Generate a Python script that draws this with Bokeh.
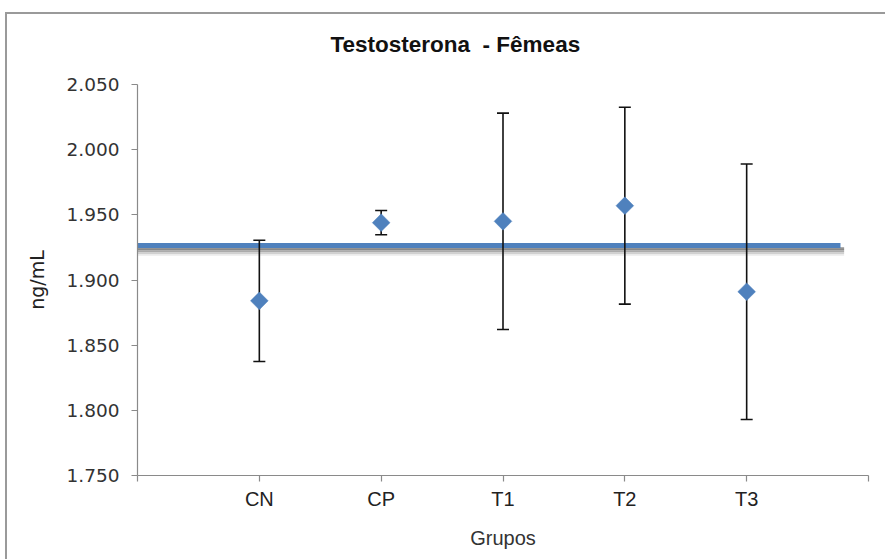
import math

from bokeh.embed import file_html
from bokeh.models import FixedTicker, NumeralTickFormatter, Range1d
from bokeh.plotting import figure
from bokeh.resources import INLINE

# Hormone levels by group (mean and half-width of the error bar)
groups = ["CN", "CP", "T1", "T2", "T3"]
group_pos = [1, 2, 3, 4, 5]
means = [1.884, 1.944, 1.945, 1.957, 1.891]
errors = [0.0465, 0.0093, 0.083, 0.0755, 0.098]

# Horizontal reference line (overall mean)
ref_x = [0.0, 5.77]
ref_y = [1.9265, 1.9265]

y_ticks = [1.750, 1.800, 1.850, 1.900, 1.950, 2.000, 2.050]
x_ticks = [0, 1, 2, 3, 4, 5, 6]

BLUE = "#4F81BD"
AXIS_GREY = "#8a8a8a"
EDGE = "#9a9a9a"

W, H = 880, 559
FRAME_TOP, FRAME_BOTTOM = 84, 84

p = figure(
    width=W, height=H,
    x_range=Range1d(0, 6), y_range=Range1d(1.75, 2.05),
    output_backend="svg", toolbar_location=None,
    min_border_left=132, min_border_right=17,
    min_border_top=FRAME_TOP, min_border_bottom=FRAME_BOTTOM,
    margin=(0, 0, 0, 5),
)
# thin grey chart-area edge along the top and left, drawn behind the canvas
p.styles = {
    "background-color": "white",
    "background-image": f"linear-gradient({EDGE},{EDGE}), linear-gradient({EDGE},{EDGE})",
    "background-repeat": "no-repeat",
    "background-position": "0 12px, 0 12px",
    "background-size": "100% 2px, 2px 100%",
}
p.background_fill_color = "white"
p.border_fill_color = None
p.outline_line_color = None
p.grid.visible = False

# title (non-breaking space keeps the wider gap before the dash)
p.title.text = "Testosterona\u00a0 - Fêmeas"
p.title.text_font = "Liberation Sans"
p.title.text_font_size = "22.5px"
p.title.text_font_style = "bold"
p.title.text_color = "#111111"
p.title.align = "left"
p.title.offset = 193
p.title.standoff = 56

# axes
for ax in (p.xaxis[0], p.yaxis[0]):
    ax.axis_line_color = AXIS_GREY
    ax.axis_line_width = 1.2
    ax.major_tick_line_color = AXIS_GREY
    ax.major_tick_line_width = 1.2
    ax.major_tick_in = 0
    ax.major_tick_out = 6
    ax.minor_tick_line_color = None
    ax.axis_label_text_font_style = "normal"

p.yaxis.ticker = FixedTicker(ticks=y_ticks)
p.yaxis.formatter = NumeralTickFormatter(format="0.000")
p.yaxis.major_label_text_font = "DejaVu Sans"
p.yaxis.major_label_text_font_size = "18.5px"
p.yaxis.major_label_text_color = "#333333"
p.yaxis.major_label_standoff = 12
p.yaxis.axis_label = "ng/mL"
p.yaxis.axis_label_text_font = "DejaVu Sans"
p.yaxis.axis_label_text_font_size = "19px"
p.yaxis.axis_label_text_color = "#222222"
p.yaxis.axis_label_standoff = 16

p.xaxis.ticker = FixedTicker(ticks=x_ticks)
labels = {0: "", 6: ""}
for pos, g in zip(group_pos, groups):
    labels[pos] = g
p.xaxis.major_label_overrides = labels
p.xaxis.major_label_text_font = "Liberation Sans"
p.xaxis.major_label_text_font_size = "20px"
p.xaxis.major_label_text_color = "#222222"
p.xaxis.major_label_standoff = 6
p.xaxis.axis_label = "Grupos"
p.xaxis.axis_label_text_font = "Liberation Sans"
p.xaxis.axis_label_text_font_size = "20px"
p.xaxis.axis_label_text_color = "#333333"
p.xaxis.axis_label_standoff = 14

# soft drop shadow under the reference line, a few pixels down
frame_h = H - FRAME_TOP - FRAME_BOTTOM
px = (p.y_range.end - p.y_range.start) / frame_h
for k, a in [(3, 0.42), (5, 0.30), (7, 0.18), (9, 0.08)]:
    p.line([ref_x[0], ref_x[1] + 0.03], [v - k * px for v in ref_y],
           line_color="#000000", line_alpha=a, line_width=2.5)
p.line(ref_x, ref_y, line_color=BLUE, line_width=5)

# error bars: stems and caps
lower = [m - e for m, e in zip(means, errors)]
upper = [m + e for m, e in zip(means, errors)]
p.segment(x0=group_pos, y0=lower, x1=group_pos, y1=upper,
          line_color="#111111", line_width=1.6)
p.scatter(x=group_pos + group_pos, y=lower + upper, marker="dash", size=12,
          line_color="#111111", line_width=1.6)

# group means
p.scatter(x=group_pos, y=means, marker="square", angle=math.pi / 4, size=12.5,
          fill_color=BLUE, line_color=BLUE, line_width=0.5)

open("out.html", "w").write(file_html(p, INLINE))
